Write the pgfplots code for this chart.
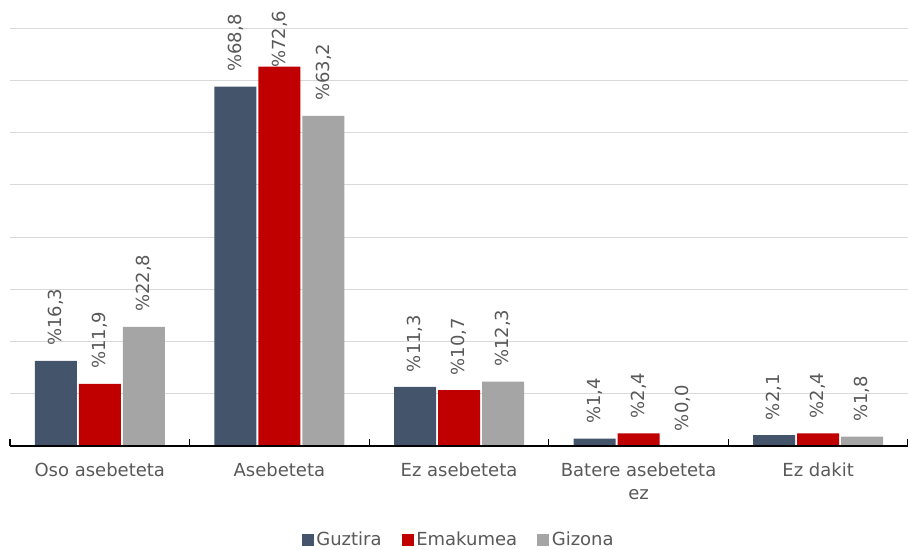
\documentclass[border=0pt]{standalone}
\usepackage{pgfplots}
\pgfplotsset{compat=1.18}
\usepackage{fontspec}
\setmainfont{DejaVu Sans}
\definecolor{cBlue}{HTML}{44546A}
\definecolor{cRed}{HTML}{C00000}
\definecolor{cGray}{HTML}{A5A5A5}
\definecolor{cText}{HTML}{595959}
\definecolor{cGrid}{HTML}{D9D9D9}
\begin{document}
\begin{tikzpicture}
\path[use as bounding box] (-7.5pt,-78pt) rectangle (673.5pt,334.5pt);
\begin{axis}[
  at={(0,0)}, anchor=south west,
  scale only axis, width=673.5pt, height=313.5pt,
  clip=false,
  ybar=1.5pt, bar width=31.5pt,
  xmin=-0.5, xmax=4.5, ymin=0, ymax=80,
  ytick={10,20,...,80}, yticklabels={}, ymajorgrids,
  major grid style={cGrid, line width=0.75pt},
  ytick style={draw=none},
  axis line style={draw=none},
  xtick={-0.5,0.5,1.5,2.5,3.5,4.5},
  xticklabels={},
  xtick pos=left,
  tick align=inside,
  major tick length=5pt,
  xtick style={draw=black, line width=1pt},
  extra x ticks={0,1,2,3,4},
  extra x tick labels={Oso asebeteta, Asebeteta, Ez asebeteta, {Batere asebeteta\\ez}, Ez dakit},
  extra x tick style={grid=none, major tick length=0pt, xtick style={draw=none},
    xticklabel style={align=center, font=\fontsize{13.5}{17}\selectfont, text=cText, inner sep=0pt, yshift=-12.5pt}},
  nodes near coords={\%\pgfmathprintnumber[fixed,fixed zerofill,precision=1,use comma,assume math mode=true]{\pgfplotspointmeta}},
  every node near coord/.append style={rotate=90, anchor=west, inner xsep=11pt, inner ysep=0pt, font=\fontsize{13.5}{16}\selectfont, text=cText},
  legend style={at={(0.5,-0.225)}, anchor=center, legend columns=3, draw=none, font=\fontsize{13.5}{16}\selectfont, text=cText,
    /tikz/every even column/.append style={column sep=13pt}},
  legend image code/.code={\fill[#1, draw=none] (0pt,-4.5pt) rectangle (9pt,4.5pt);},
]
\addplot[fill=cBlue, draw=none] coordinates {(0,16.3) (1,68.8) (2,11.3) (3,1.4) (4,2.1)};
\addplot[fill=cRed, draw=none,
  visualization depends on={\thisrow{sep} \as \labsep},
  every node near coord/.append style={inner xsep=\labsep pt}] table {
x y sep
0 11.9 11
1 72.6 -1
2 10.7 11
3 2.4 11
4 2.4 11
};
\addplot[fill=cGray, draw=none] coordinates {(0,22.8) (1,63.2) (2,12.3) (3,0.0) (4,1.8)};
\legend{Guztira, Emakumea, Gizona}
\draw[black, line width=1.5pt] (rel axis cs:0,0) -- (rel axis cs:1,0);
\end{axis}
\end{tikzpicture}
\end{document}
